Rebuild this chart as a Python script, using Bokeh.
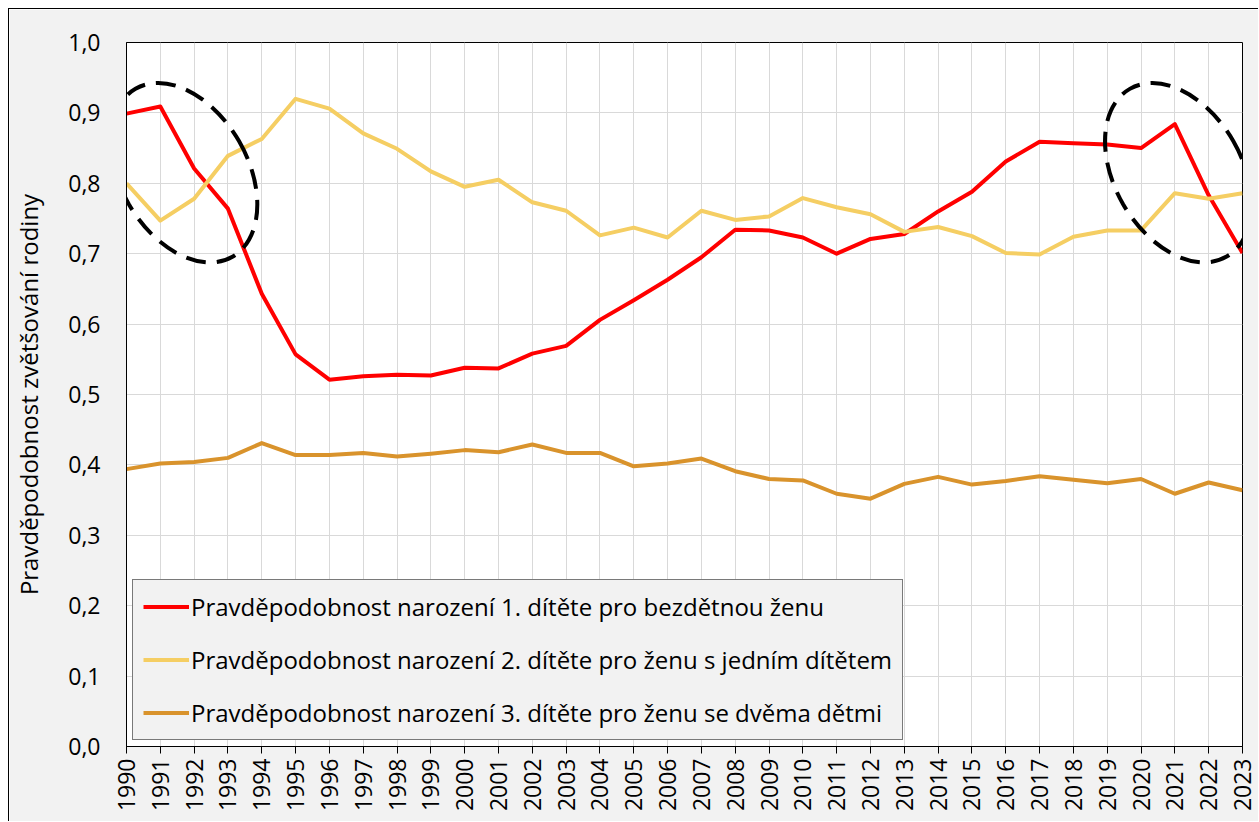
import math
from bokeh.plotting import figure
from bokeh.models import FixedTicker, CustomJSTickFormatter, Range1d, Legend, LegendItem
from bokeh.embed import file_html
from bokeh.resources import INLINE

# ---------------- data ----------------
years = list(range(1990, 2024))
first_child = [0.899, 0.909, 0.821, 0.764, 0.643, 0.557, 0.521, 0.526, 0.528, 0.527,
               0.538, 0.537, 0.558, 0.569, 0.606, 0.634, 0.663, 0.695, 0.734, 0.733,
               0.723, 0.700, 0.721, 0.728, 0.760, 0.788, 0.831, 0.859, 0.857, 0.855,
               0.850, 0.884, 0.783, 0.701]
second_child = [0.800, 0.747, 0.778, 0.839, 0.863, 0.920, 0.906, 0.871, 0.849, 0.817,
                0.795, 0.805, 0.773, 0.761, 0.726, 0.737, 0.723, 0.761, 0.748, 0.753,
                0.779, 0.766, 0.756, 0.731, 0.738, 0.725, 0.701, 0.699, 0.724, 0.733,
                0.733, 0.786, 0.778, 0.786]
third_child = [0.394, 0.402, 0.404, 0.410, 0.431, 0.414, 0.414, 0.417, 0.412, 0.416,
               0.421, 0.418, 0.429, 0.417, 0.417, 0.398, 0.402, 0.409, 0.391, 0.380,
               0.378, 0.359, 0.352, 0.373, 0.383, 0.372, 0.377, 0.384, 0.379, 0.374,
               0.380, 0.359, 0.375, 0.364]
series_labels = [
    "Pravděpodobnost narození 1. dítěte pro bezdětnou ženu",
    "Pravděpodobnost narození 2. dítěte pro ženu s jedním dítětem",
    "Pravděpodobnost narození 3. dítěte pro ženu se dvěma dětmi",
]
y_ticks = [0.0, 0.1, 0.2, 0.3, 0.4, 0.5, 0.6, 0.7, 0.8, 0.9, 1.0]
y_axis_title = "Pravděpodobnost zvětšování rodiny"

# highlighted periods (centres of dashed ellipses, in data units)
highlight_x = [1991.7, 2021.1]
highlight_y = [0.815, 0.815]

# ---------------- style ----------------
FONT = "Open Sans"
colors = ["#FF0000", "#F5CE63", "#D9932C"]

p = figure(width=1250, height=813, output_backend="svg", toolbar_location=None,
           x_range=Range1d(1990, 2023), y_range=Range1d(0, 1.0),
           min_border_left=117, min_border_right=17, min_border_top=33, min_border_bottom=76)
p.styles = {"margin-left": "8px", "margin-top": "8px",
            "border-left": "1px solid #000000", "border-top": "1px solid #000000"}

p.background_fill_color = "white"
p.border_fill_color = "#F2F2F2"
p.outline_line_color = "black"
p.outline_line_width = 1

# axes
p.xaxis.ticker = FixedTicker(ticks=years)
p.yaxis.ticker = FixedTicker(ticks=y_ticks)
p.yaxis.formatter = CustomJSTickFormatter(code="return tick.toFixed(1).replace('.', ',');")
p.xaxis.major_label_orientation = math.pi / 2
for ax in (p.xaxis[0], p.yaxis[0]):
    ax.axis_line_color = "black"
    ax.axis_line_width = 1
    ax.major_label_text_font = FONT
    ax.major_label_text_font_size = "23px"
    ax.major_label_text_color = "black"
    ax.minor_tick_line_color = None
p.xaxis.major_tick_out = 7
p.xaxis.major_tick_in = 0
p.xaxis.major_tick_line_color = "black"
p.xaxis.major_label_standoff = 5
p.yaxis.major_tick_out = 0
p.yaxis.major_tick_in = 0
p.yaxis.major_label_standoff = 26
p.yaxis.axis_label = y_axis_title
p.yaxis.axis_label_text_font = FONT
p.yaxis.axis_label_text_font_size = "24px"
p.yaxis.axis_label_text_font_style = "normal"
p.yaxis.axis_label_text_color = "black"
p.yaxis.axis_label_standoff = 20

# grid
p.xgrid.ticker = FixedTicker(ticks=years)
p.ygrid.ticker = FixedTicker(ticks=y_ticks)
for g in (p.xgrid[0], p.ygrid[0]):
    g.grid_line_color = "#D9D9D9"
    g.grid_line_width = 1

# lines
renderers = []
for vals, col in zip([first_child, second_child, third_child], colors):
    r = p.line(years, vals, line_color=col, line_width=4, line_join="round")
    renderers.append(r)

# dashed ellipses
p.ellipse(x=highlight_x, y=highlight_y, width=127, height=194,
          width_units="screen", height_units="screen", angle=math.pi / 6,
          fill_color=None, line_color="black", line_width=4, line_dash="20 11")

legend = Legend(items=[LegendItem(label=lab, renderers=[r]) for lab, r in zip(series_labels, renderers)],
                location=(6, 6))
legend.background_fill_color = "#F2F2F2"
legend.background_fill_alpha = 1
legend.border_line_color = "black"
legend.border_line_width = 1
legend.label_text_font = FONT
legend.label_text_font_size = "24px"
legend.label_text_color = "black"
legend.glyph_width = 46
legend.glyph_height = 33
legend.label_height = 33
legend.label_standoff = 2
legend.spacing = 20
legend.padding = 10
legend.margin = 0
p.add_layout(legend, "center")

open("out.html", "w").write(file_html(p, INLINE))
